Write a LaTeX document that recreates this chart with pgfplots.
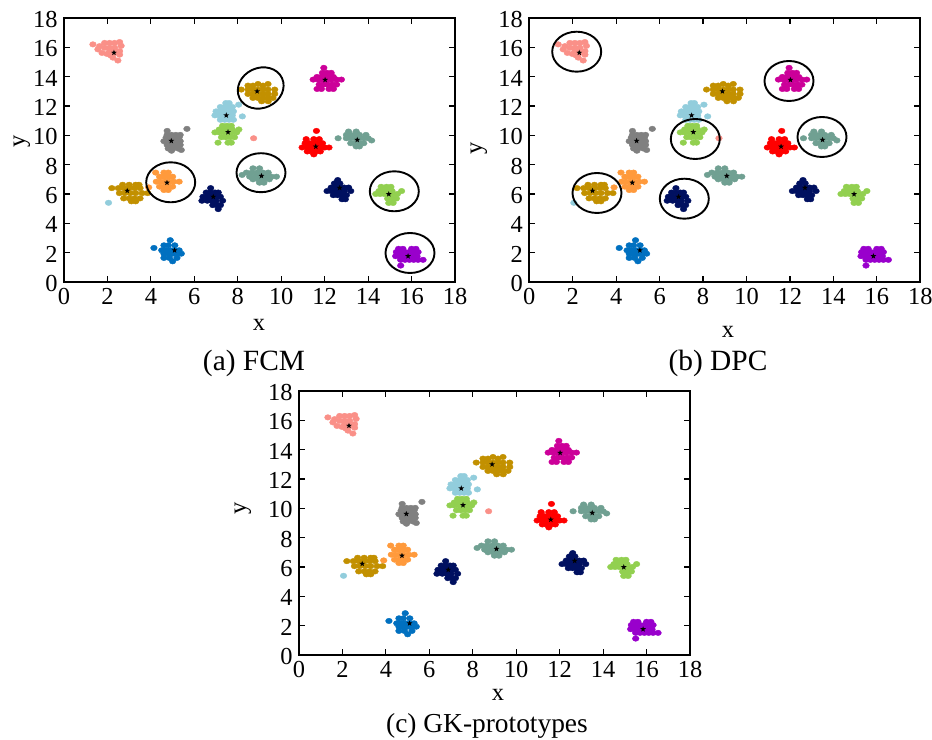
\documentclass[border=0pt]{standalone}
\usepackage{pgfplots}
\usepackage{pgfplotstable}
\usepackage{fontspec}
\setmainfont{Liberation Serif}
\pgfplotsset{compat=1.18}
\usetikzlibrary{plotmarks}
\definecolor{cPink}{HTML}{FA9088}
\definecolor{cGold}{HTML}{C29000}
\definecolor{cLBlue}{HTML}{92CDDC}
\definecolor{cLime}{HTML}{92D050}
\definecolor{cGray}{HTML}{808080}
\definecolor{cOrange}{HTML}{FF9A3C}
\definecolor{cNavy}{HTML}{001060}
\definecolor{cBlue}{HTML}{0070C0}
\definecolor{cTeal}{HTML}{70A092}
\definecolor{cMag}{HTML}{CC0099}
\definecolor{cRed}{HTML}{FF0000}
\definecolor{cPurple}{HTML}{9900CC}
\pgfdeclareplotmark{fstar}{%
 \pgfpathmoveto{\pgfqpointpolar{90}{\pgfplotmarksize}}%
 \pgfpathlineto{\pgfqpointpolar{126}{0.42\pgfplotmarksize}}%
 \pgfpathlineto{\pgfqpointpolar{162}{\pgfplotmarksize}}%
 \pgfpathlineto{\pgfqpointpolar{198}{0.42\pgfplotmarksize}}%
 \pgfpathlineto{\pgfqpointpolar{234}{\pgfplotmarksize}}%
 \pgfpathlineto{\pgfqpointpolar{270}{0.42\pgfplotmarksize}}%
 \pgfpathlineto{\pgfqpointpolar{306}{\pgfplotmarksize}}%
 \pgfpathlineto{\pgfqpointpolar{342}{0.42\pgfplotmarksize}}%
 \pgfpathlineto{\pgfqpointpolar{18}{\pgfplotmarksize}}%
 \pgfpathlineto{\pgfqpointpolar{54}{0.42\pgfplotmarksize}}%
 \pgfpathclose\pgfusepathqfill}
\pgfplotstableread{
x y
1.33 16.2
1.56 15.86
1.75 15.62
1.98 15.55
2.25 15.3
2.48 15.1
1.87 16.3
2.1 16.3
2.33 16.3
2.56 16.36
2.63 16.1
1.87 15.97
2.1 15.97
2.33 15.97
2.56 15.74
2.1 15.74
2.33 15.63
1.64 16.08
2.56 15.5
2.15 15.45
8.73 9.8
}\tPink
\pgfplotstableread{
x y
8.47 13.39
8.7 13.39
8.93 13.5
9.16 13.39
9.39 13.5
8.16 13.12
8.47 13.12
8.7 13.12
8.93 13.12
9.16 13.12
9.39 13.12
9.7 13.12
8.47 12.82
8.7 12.82
8.93 12.82
9.16 12.82
9.39 12.82
9.7 12.82
8.7 12.55
8.93 12.55
9.16 12.55
9.39 12.55
9.62 12.55
9.1 12.32
9.4 12.32
2.7 6.63
3.0 6.63
3.3 6.63
3.45 6.63
2.2 6.4
2.5 6.4
2.75 6.4
3.0 6.4
3.25 6.4
3.5 6.4
2.55 6.06
2.8 6.06
3.05 6.06
3.3 6.06
3.6 6.06
3.85 6.06
2.75 5.7
3.0 5.7
3.25 5.7
3.5 5.7
3.1 5.5
3.3 5.5
}\tGold
\pgfplotstableread{
x y
7.45 12.2
7.6 12.2
7.2 11.93
7.4 11.93
7.6 11.93
7.75 11.93
7.0 11.63
7.2 11.63
7.4 11.63
7.6 11.63
7.8 11.63
6.95 11.36
7.15 11.36
7.35 11.36
7.55 11.36
7.75 11.36
7.2 11.06
7.4 11.06
7.6 11.06
7.8 11.06
8.04 12.09
8.21 11.29
2.05 5.4
}\tLBlue
\pgfplotstableread{
x y
7.3 10.65
7.5 10.65
7.7 10.65
7.15 10.4
7.35 10.4
7.55 10.4
7.75 10.4
8.05 10.4
6.95 10.2
7.15 10.2
7.35 10.2
7.55 10.2
7.75 10.2
7.95 10.2
7.25 9.87
7.45 9.87
7.65 9.87
7.85 9.87
7.09 9.5
7.55 9.5
7.7 9.5
14.6 6.49
14.85 6.49
15.05 6.49
14.5 6.2
14.7 6.2
14.9 6.2
15.1 6.2
15.54 6.2
14.35 6.0
14.55 6.0
14.75 6.0
14.95 6.0
15.15 6.0
15.35 6.0
14.9 5.69
15.1 5.69
15.3 5.69
14.95 5.39
15.15 5.39
}\tLime
\pgfplotstableread{
x y
5.66 10.44
4.75 10.3
4.75 10.03
4.95 10.03
5.15 10.03
5.35 10.03
4.7 9.85
4.9 9.85
5.1 9.85
5.3 9.85
4.6 9.6
4.85 9.6
5.1 9.6
5.35 9.6
4.75 9.35
4.95 9.35
5.15 9.35
5.35 9.35
4.8 9.1
5.0 9.1
5.25 9.1
4.95 8.95
5.4 9.0
}\tGray
\pgfplotstableread{
x y
4.22 7.46
4.6 7.46
4.8 7.46
4.4 7.18
4.6 7.18
4.8 7.18
5.0 7.18
4.25 6.84
4.45 6.84
4.65 6.84
4.85 6.84
5.05 6.84
5.3 6.84
4.4 6.5
4.6 6.5
4.8 6.5
5.0 6.5
4.6 6.27
4.8 6.27
3.9 6.45
}\tOrange
\pgfplotstableread{
x y
6.75 6.4
6.55 6.1
6.75 6.1
6.95 6.1
7.1 6.1
6.4 5.81
6.6 5.81
6.8 5.81
7.0 5.81
7.2 5.81
6.35 5.54
6.6 5.54
6.8 5.54
7.0 5.54
7.3 5.54
6.85 5.24
7.05 5.24
7.2 5.24
7.1 4.97
12.6 6.95
12.45 6.72
12.7 6.72
12.3 6.44
12.5 6.44
12.7 6.44
12.9 6.44
13.1 6.44
12.11 6.2
12.3 6.2
12.5 6.2
12.7 6.2
12.9 6.2
13.2 6.2
12.4 5.92
12.6 5.92
12.8 5.92
13.0 5.92
12.8 5.64
12.95 5.64
}\tNavy
\pgfplotstableread{
x y
4.89 2.85
4.14 2.32
4.6 2.5
4.8 2.5
5.1 2.5
4.5 2.16
4.7 2.16
4.9 2.16
5.1 2.16
5.3 2.16
5.4 1.93
4.6 1.93
4.8 1.93
5.0 1.93
5.2 1.93
4.6 1.64
4.85 1.64
5.2 1.64
5.0 1.41
}\tBlue
\pgfplotstableread{
x y
8.7 7.75
9.0 7.75
8.4 7.46
8.65 7.46
8.9 7.46
9.15 7.46
9.4 7.46
8.2 7.3
8.55 7.18
8.8 7.18
9.05 7.18
9.3 7.18
9.55 7.18
9.78 7.18
8.7 7.0
8.95 7.0
9.2 7.0
9.45 7.0
9.0 6.77
9.2 6.77
13.1 10.26
13.45 10.26
13.0 10.03
13.2 10.03
13.4 10.03
13.6 10.03
13.9 10.03
12.62 9.8
13.0 9.8
13.2 9.8
13.4 9.8
13.6 9.8
13.8 9.8
14.0 9.8
14.16 9.65
13.2 9.46
13.4 9.46
13.6 9.46
13.8 9.46
13.45 9.24
13.6 9.24
}\tTeal
\pgfplotstableread{
x y
11.96 14.6
11.9 14.26
12.1 14.26
12.3 14.26
11.65 13.98
11.85 13.98
12.05 13.98
12.25 13.98
12.4 13.98
11.47 13.8
11.7 13.8
11.9 13.8
12.1 13.8
12.3 13.8
12.55 13.8
12.77 13.8
11.75 13.46
11.95 13.46
12.15 13.46
12.35 13.46
12.55 13.46
11.65 13.16
11.85 13.16
12.2 13.16
12.4 13.16
}\tMag
\pgfplotstableread{
x y
11.62 10.3
11.15 9.74
11.5 9.74
11.75 9.74
11.1 9.46
11.3 9.46
11.5 9.46
11.7 9.46
11.9 9.46
10.96 9.17
11.2 9.17
11.4 9.17
11.6 9.17
11.8 9.17
12.0 9.17
12.2 9.17
11.2 8.9
11.4 8.9
11.6 8.9
11.8 8.9
11.5 8.7
}\tRed
\pgfplotstableread{
x y
15.4 2.26
15.6 2.26
16.0 2.26
16.2 2.26
15.3 2.04
15.5 2.04
15.7 2.04
15.9 2.04
16.1 2.04
16.3 2.04
15.27 1.76
15.45 1.76
15.65 1.76
15.85 1.76
16.05 1.76
16.25 1.76
15.5 1.51
15.7 1.51
15.9 1.51
16.1 1.51
16.3 1.51
16.53 1.51
15.5 1.12
}\tPurple
\pgfplotstableread{
x y
2.30 15.63
8.89 13.0
7.47 11.36
7.55 10.22
4.94 9.62
4.74 6.77
2.91 6.22
6.87 5.81
12.69 6.42
5.09 2.16
9.09 7.23
12.02 13.78
11.59 9.23
13.5 9.69
14.95 5.99
15.84 1.76
}\tCenters
\newcommand\cl[2]{\addplot[only marks,mark=*,mark size=2.9bp,color=#1,mark options={xscale=1.15,yscale=.95,draw=none,fill=#1}] table {#2};}
\newcommand\allclusters{%
\cl{cPink}{\tPink}\cl{cGold}{\tGold}\cl{cLBlue}{\tLBlue}\cl{cLime}{\tLime}\cl{cGray}{\tGray}%
\cl{cOrange}{\tOrange}\cl{cNavy}{\tNavy}\cl{cBlue}{\tBlue}\cl{cTeal}{\tTeal}\cl{cMag}{\tMag}%
\cl{cRed}{\tRed}\cl{cPurple}{\tPurple}%
\addplot[only marks,mark=fstar,mark size=3bp,color=black] table {\tCenters};}
\pgfplotsset{panel/.style={
 scale only axis,width=391bp,height=264bp,anchor=south west,
 xmin=0,xmax=18,ymin=0,ymax=18,
 xtick={0,2,...,18},ytick={0,2,...,18},
 tick align=inside,major tick length=6bp,
 axis line style={line width=1.8bp},
 every tick/.style={black,line width=1.2bp},
 ticklabel style={font=\fontsize{24.5}{25}\selectfont},
 /pgf/number format/assume math mode=true,
 xticklabel style={yshift=-2.5bp},
 yticklabel style={xshift=-3bp,yshift=-1.5bp},
}}
\begin{document}
\begin{tikzpicture}[x=1bp,y=1bp]
\useasboundingbox (0,0) rectangle (932,740);
\begin{axis}[panel,at={(64bp,458bp)}]
\allclusters
\end{axis}
\begin{axis}[panel,at={(529.3bp,458bp)}]
\allclusters
\end{axis}
\begin{axis}[panel,at={(299bp,85bp)}]
\allclusters
\end{axis}
\tikzset{lab/.style={font=\fontsize{24.5}{25}\selectfont,inner sep=0pt},
 capt/.style={font=\fontsize{29.5}{30}\selectfont,inner sep=0pt},
 captc/.style={font=\fontsize{27.5}{28}\selectfont,inner sep=0pt},
 ell/.style={line width=1.9bp,black}}
\node[lab] at (259,415.5) {x};
\node[lab] at (728,408) {x};
\node[lab] at (498,45) {x};
\node[lab,rotate=90] at (22,599) {y};
\node[lab,rotate=90] at (479,592) {y};
\node[lab,rotate=90] at (243,232) {y};
\node[capt] at (254,376.5) {(a) FCM};
\node[capt] at (718,376.5) {(b) DPC};
\node[captc] at (487,14.5) {(c) GK-prototypes};
% panel a
\draw[ell,shift={(260.7,652)},rotate=25] (0,0) ellipse (23.5 and 20);
\draw[ell] (170.7,557.7) ellipse (24.5 and 20);
\draw[ell] (261,567.3) ellipse (24.5 and 19.5);
\draw[ell] (394.3,548.7) ellipse (24.5 and 20);
\draw[ell] (410,487) ellipse (24.5 and 20);
% panel b
\draw[ell] (576.7,688.3) ellipse (24.5 and 20);
\draw[ell] (695.3,601) ellipse (24.5 and 20);
\draw[ell] (597,547) ellipse (24.5 and 20);
\draw[ell] (684.3,541.3) ellipse (24.5 and 20);
\draw[ell] (789,659) ellipse (24.5 and 20);
\draw[ell] (822,603) ellipse (24.5 and 20);
\end{tikzpicture}
\end{document}
